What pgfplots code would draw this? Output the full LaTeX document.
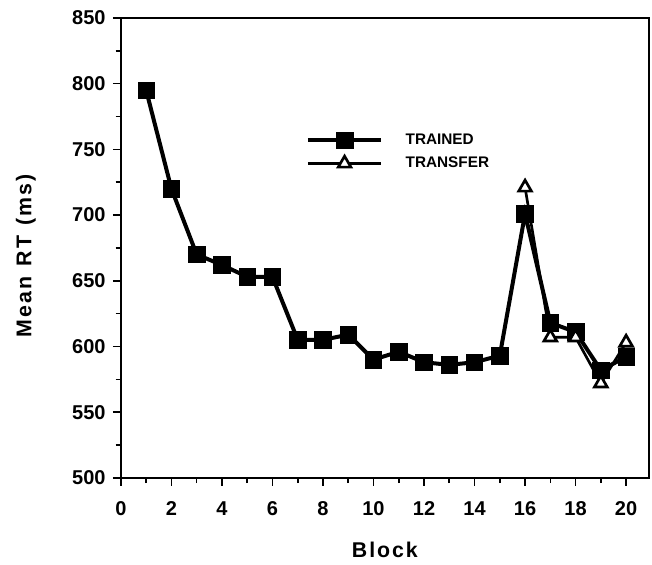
\documentclass[border=0pt]{standalone}
\usepackage{fontspec}
\setmainfont{Liberation Sans}
\usepackage{pgfplots}
\pgfplotsset{compat=1.18}

\begin{document}
\begin{tikzpicture}
\begin{axis}[
  scale only axis, width=396pt, height=345pt,
  xmin=0, xmax=20.9, ymin=500, ymax=850,
  xtick={0,2,...,20}, ytick={500,550,...,850},
  minor x tick num=1, minor y tick num=1,
  tick align=outside, tick pos=left,
  major tick length=6pt, minor tick length=4pt,
  every tick/.style={black, line width=1.2pt},
  axis line style={line width=1.6pt},
  /pgf/number format/assume math mode=true,
  /pgf/number format/set thousands separator={},
  tick label style={font=\fontsize{15}{17}\selectfont\bfseries},
  xticklabel style={yshift=-8pt},
  yticklabel style={xshift=-2pt},
  xlabel={Block}, ylabel={Mean\hspace{0.5em}RT\hspace{0.5em}(ms)},
  label style={font=\fontsize{16}{18}\selectfont\bfseries\addfontfeature{LetterSpace=9}},
  xlabel style={at={(axis description cs:0.5,-0.157)}, anchor=center},
  ylabel style={at={(axis description cs:-0.18,0.483)}, anchor=center},
  legend cell align=left,
  legend style={draw=none, fill=none, at={(axis cs:7.15,766)}, anchor=north west,
    font=\fontsize{11.5}{13}\selectfont\bfseries, row sep=4pt,
    /tikz/every odd column/.append style={column sep=15pt}},
  legend image code/.code={\draw[mark repeat=2,mark phase=2]
    plot coordinates {(0cm,0cm) (0.97cm,0cm) (1.93cm,0cm)};},
  clip=false,
]
% page margins as in the reference
\path (axis description cs:-0.229,-0.189) rectangle (axis description cs:1.006,1.039);
% trained blocks
\addplot[black, line width=3pt, mark=square*, mark size=6.2pt,
  mark options={solid, line width=0.5pt}] coordinates {
  (1,795) (2,720) (3,670) (4,662) (5,653) (6,653) (7,605) (8,605)
  (9,609) (10,590) (11,596) (12,588) (13,586) (14,588) (15,593)
  (16,701) (17,618) (18,611) (19,582) (20,592)
};
\addlegendentry{TRAINED}
% transfer blocks
\addplot[black, line width=2pt, mark=triangle*, mark size=5.5pt,
  mark options={solid, fill=white, line width=2pt}] coordinates {
  (16,721) (17,607) (18,607) (19,572) (20,603)
};
\addlegendentry{TRANSFER}
\end{axis}
\end{tikzpicture}
\end{document}
